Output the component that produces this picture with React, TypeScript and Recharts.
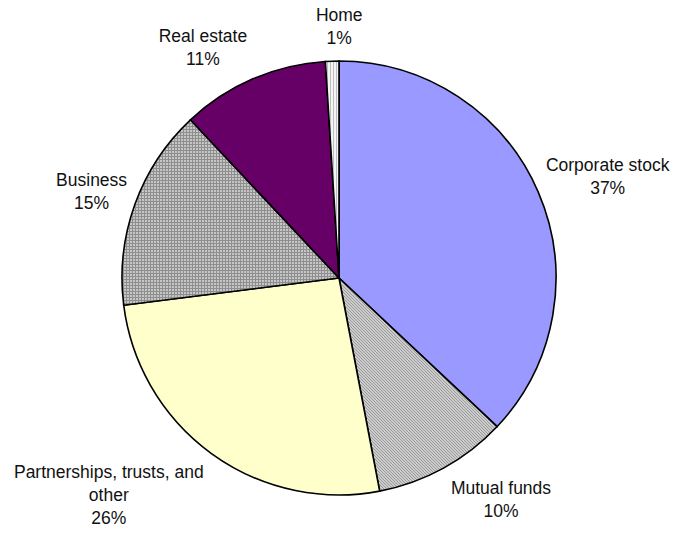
import { PieChart, Pie, Cell } from 'recharts';

const categories = ['Corporate stock', 'Mutual funds', 'Partnerships, trusts, and other', 'Business', 'Real estate', 'Home'];
const shares = [37, 10, 26, 15, 11, 1];

const data = categories.map((name, i) => ({ name, value: shares[i] }));

const fills = ['#9999ff', 'url(#diag)', '#ffffcc', 'url(#grid)', '#660066', 'url(#vstripe)'];

// nudge of each label block away from the plain polar anchor (Excel put them by hand)
const labelNudge = [
  [42, -4],
  [43, 5],
  [-85, 17],
  [-15, -3],
  [-38, -4],
  [8, -5],
];

const RADIAN = Math.PI / 180;
const FONT = 17.5;
const LINE = 23;

// greedy word wrap, about 25 chars a line
function wrap(s: string, max = 25) {
  const out: string[] = [];
  let cur = '';
  s.split(' ').forEach(w => {
    const next = cur ? cur + ' ' + w : w;
    if (next.length > max && cur) {
      out.push(cur);
      cur = w;
    } else {
      cur = next;
    }
  });
  if (cur) out.push(cur);
  return out;
}

const renderLabel = (props: any) => {
  const { cx, cy, midAngle, outerRadius, index, name, value } = props;
  const r = outerRadius + 30;
  const ax = cx + r * Math.cos(-midAngle * RADIAN) + labelNudge[index][0];
  const ay = cy + r * Math.sin(-midAngle * RADIAN) + labelNudge[index][1];
  const lines = [...wrap(name), `${value}%`];
  const y0 = ay - ((lines.length - 1) * LINE) / 2 + FONT * 0.36;
  return (
    <text
      key={name}
      x={ax}
      y={y0}
      textAnchor="middle"
      fill="#111"
      fontSize={FONT}
      fontFamily="'Liberation Sans', Arial, sans-serif"
    >
      {lines.map((l, i) => (
        <tspan key={i} x={ax} dy={i === 0 ? 0 : LINE}>
          {l}
        </tspan>
      ))}
    </text>
  );
};

export default function App() {
  return (
    <div style={{ position: 'fixed', left: 0, top: 0, width: 679, height: 533, background: '#fff' }}>
      <PieChart width={679} height={533} margin={{ top: 0, right: 0, bottom: 0, left: 0 }}>
        <defs>
          <pattern id="diag" width="3" height="3" patternUnits="userSpaceOnUse">
            <rect width="3" height="3" fill="#cccccc" />
            <path d="M0,0 L3,3 M-1,2 L1,4 M2,-1 L4,1" stroke="#8e8e8e" strokeWidth="0.8" />
          </pattern>
          <pattern id="grid" width="3" height="3" patternUnits="userSpaceOnUse">
            <rect width="3" height="3" fill="#c6c6c6" />
            <path d="M0,0.5 H3 M0.5,0 V3" stroke="#8e8e8e" strokeWidth="1" />
          </pattern>
          <pattern id="vstripe" width="3" height="3" patternUnits="userSpaceOnUse">
            <rect width="3" height="3" fill="#f4f4f4" />
            <path d="M0.5,0 V3" stroke="#bdbdbd" strokeWidth="1" />
          </pattern>
        </defs>
        <Pie
          data={data}
          dataKey="value"
          nameKey="name"
          cx={339}
          cy={278}
          outerRadius={217}
          startAngle={90}
          endAngle={-270}
          stroke="#000"
          strokeWidth={1.6}
          label={renderLabel}
          labelLine={false}
          isAnimationActive={false}
        >
          {data.map((d, i) => (
            <Cell key={d.name} fill={fills[i]} />
          ))}
        </Pie>
      </PieChart>
    </div>
  );
}
